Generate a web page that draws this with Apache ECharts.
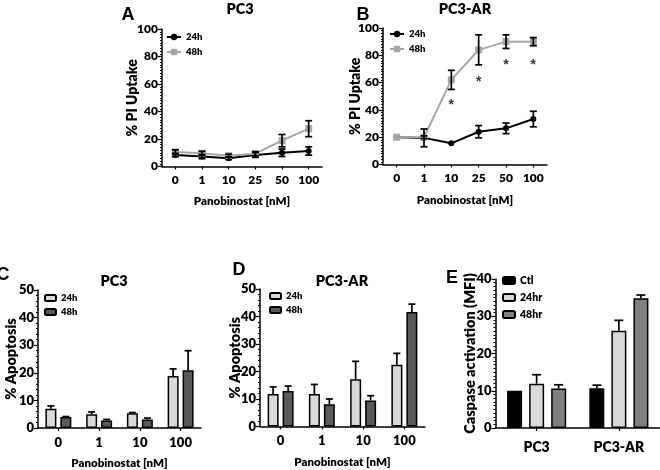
<!DOCTYPE html>
<html><head><meta charset="utf-8">
<script src="https://cdn.jsdelivr.net/npm/echarts@6/dist/echarts.min.js"></script>
<style>html,body{margin:0;padding:0;background:#fff}#c{width:660px;height:470px}</style>
</head><body><div id="c"></div>
<script>
// ---------- data ----------
const lineDoses = ['0', '1', '10', '25', '50', '100'];
const pc3_24h   = [8.4, 7.2, 6.0, 8.4, 10.0, 11.3];
const pc3_24hSD = [1.2, 1.5, 1.0, 1.8, 2.7, 3.0];
const pc3_48h   = [10.6, 9.6, 7.9, 9.3, 18.8, 27.5];
const pc3_48hSD = [1.5, 1.5, 1.0, 1.5, 4.5, 5.8];
const ar_24h    = [20, 19.5, 15.5, 24, 26.5, 33.3];
const ar_24hSD  = [0, 6.5, 0, 4.5, 3.9, 5.7];
const ar_48h    = [20, 20, 62, 84, 90, 90];
const ar_48hSD  = [0, 1, 7, 11, 5, 3];
const starDoses = ['10', '25', '50', '100'];
const starY     = [46, 62.5, 75, 75];

const barDoses    = ['0', '1', '10', '100'];
const apoPC3_24h   = [7.0, 5.0, 5.3, 18.8];
const apoPC3_24hSD = [1.0, 0.8, 0.3, 2.6];
const apoPC3_48h   = [4.0, 2.7, 3.1, 20.9];
const apoPC3_48hSD = [0.15, 0.4, 0.5, 7.1];
const apoAR_24h    = [11.8, 11.8, 17.2, 22.5];
const apoAR_24hSD  = [2.6, 3.5, 6.5, 4.1];
const apoAR_48h    = [12.9, 8.1, 9.5, 41.6];
const apoAR_48hSD  = [1.8, 1.9, 1.7, 2.9];

const cellLines  = ['PC3', 'PC3-AR'];
const caspCtl    = [10.0, 10.7];
const caspCtlSD  = [0, 0.8];
const casp24     = [11.9, 26.1];
const casp24SD   = [2.4, 2.8];
const casp48     = [10.6, 34.8];
const casp48SD   = [1.0, 0.9];

// ---------- style ----------
const FN = "Lato,'Liberation Sans',Arial,sans-serif";
const FW = "'Liberation Sans',Arial,sans-serif";
const WT = 800;
const BLACK = '#000';
const LIGHT = '#d9d9d9';
const DARK = '#5a5a5a';
const MID = '#808080';
const LINEGRAY = '#a6a6a6';

const grids = [
  {left: 162, top: 29, width: 160, height: 137.5},
  {left: 383, top: 28, width: 164, height: 136.5},
  {left: 38, top: 290, width: 163, height: 138},
  {left: 260, top: 289, width: 165, height: 137.5},
  {left: 495.5, top: 279, width: 164.5, height: 149}
];

function xAx(gi, data, name, gap, labelMargin, labelSize) {
  return {
    type: 'category', gridIndex: gi, data: data, boundaryGap: true,
    name: name, nameLocation: 'middle', nameGap: gap, nameMoveOverlap: false,
    nameTextStyle: {fontFamily: FN, fontWeight: WT, fontSize: 11.5, color: BLACK},
    axisLine: {show: true, lineStyle: {color: BLACK, width: 1.5}},
    axisTick: {show: true, alignWithLabel: true, interval: 0, length: 3, lineStyle: {color: BLACK, width: 1.2}},
    axisLabel: {interval: 0, fontFamily: FN, fontWeight: WT, fontSize: labelSize, color: BLACK, margin: labelMargin},
    splitLine: {show: false}
  };
}
function yAx(gi, max, interval, name, gap, nameSize, minorSplit, labelSize) {
  return {
    type: 'value', gridIndex: gi, min: 0, max: max, interval: interval,
    name: name, nameLocation: 'middle', nameGap: gap, nameMoveOverlap: false,
    nameTextStyle: {fontFamily: FN, fontWeight: WT, fontSize: nameSize, color: BLACK},
    axisLine: {show: true, lineStyle: {color: BLACK, width: 1.5}},
    axisTick: {show: true, length: 4, lineStyle: {color: BLACK, width: 1.2}},
    minorTick: {show: true, splitNumber: minorSplit, length: 2, lineStyle: {color: BLACK, width: 1}},
    axisLabel: {fontFamily: FN, fontWeight: WT, fontSize: labelSize, color: BLACK, margin: 4},
    splitLine: {show: false}, minorSplitLine: {show: false}
  };
}

function errData(vals, sds) { return vals.map((v, i) => [i, v, sds[i]]); }

function errSeries(gi, vals, sds, offset, capW, upOnly) {
  return {
    type: 'custom', xAxisIndex: gi, yAxisIndex: gi, z: 5,
    data: errData(vals, sds),
    renderItem: function (params, api) {
      const x = api.value(0), y = api.value(1), e = api.value(2);
      if (!e) return null;
      const p0 = api.coord([x, y]);
      const pt = api.coord([x, y + e]);
      const pb = upOnly ? p0 : api.coord([x, y - e]);
      const cx = p0[0] + offset;
      const st = {stroke: BLACK, lineWidth: 1.7};
      const ch = [
        {type: 'line', shape: {x1: cx, y1: pb[1], x2: cx, y2: pt[1]}, style: st},
        {type: 'line', shape: {x1: cx - capW / 2, y1: pt[1], x2: cx + capW / 2, y2: pt[1]}, style: st}
      ];
      if (!upOnly) ch.push({type: 'line', shape: {x1: cx - capW / 2, y1: pb[1], x2: cx + capW / 2, y2: pb[1]}, style: st});
      return {type: 'group', children: ch};
    }
  };
}

function lineSeries(gi, name, vals, color, symbol, size) {
  return {
    type: 'line', name: name, xAxisIndex: gi, yAxisIndex: gi, data: vals,
    symbol: symbol, symbolSize: size, showSymbol: true,
    lineStyle: {color: color, width: 2}, itemStyle: {color: color},
    z: name.indexOf('48') >= 0 ? 3 : 2, animation: false
  };
}

function barSeries(gi, name, vals, color, w, gap) {
  return {
    type: 'bar', name: name, xAxisIndex: gi, yAxisIndex: gi, data: vals,
    barWidth: w, barGap: gap,
    itemStyle: {color: color, borderColor: BLACK, borderWidth: 1.5}, animation: false
  };
}

const legendBase = {
  orient: 'vertical', padding: 0, selectedMode: false,
  formatter: n => n.split('|')[1],
  textStyle: {fontFamily: FN, fontWeight: WT, fontSize: 9.5, color: BLACK}
};

const txt = (t, x, y, size, font) => ({
  type: 'text', x: x, y: y,
  style: {text: t, font: WT + ' ' + size + 'px ' + font, fill: BLACK,
          align: 'center', verticalAlign: 'middle', textAlign: 'center', textVerticalAlign: 'middle'}
});

const option = {
  animation: false,
  backgroundColor: '#fff',
  textStyle: {fontFamily: FN, fontWeight: WT, color: BLACK},
  grid: grids,
  xAxis: [
    xAx(0, lineDoses, 'Panobinostat [nM]', 29, 8, 12),
    xAx(1, lineDoses, 'Panobinostat [nM]', 30, 8, 12),
    xAx(2, barDoses, 'Panobinostat [nM]', 29, 8, 13),
    xAx(3, barDoses, 'Panobinostat [nM]', 30, 8, 13),
    xAx(4, cellLines, '', 0, 12, 14)
  ],
  yAxis: [
    yAx(0, 100, 20, '% PI Uptake', 23, 14, 10, 12),
    yAx(1, 100, 20, '% PI Uptake', 21, 14, 10, 12),
    yAx(2, 50, 10, '% Apoptosis', 19, 14.5, 5, 13),
    yAx(3, 50, 10, '% Apoptosis', 17, 14.5, 5, 13),
    yAx(4, 40, 10, 'Caspase activation (MFI)', 18, 14.5, 10, 13)
  ],
  legend: [
    Object.assign({}, legendBase, {data: ['A|24h', 'A|48h'], left: 166, top: 32, itemWidth: 14, itemHeight: 8, itemGap: 5}),
    Object.assign({}, legendBase, {data: ['B|24h', 'B|48h'], left: 389, top: 29, itemWidth: 14, itemHeight: 8, itemGap: 5}),
    Object.assign({}, legendBase, {data: ['C|24h', 'C|48h'], left: 44, top: 293, itemWidth: 11, itemHeight: 6, itemGap: 4}),
    Object.assign({}, legendBase, {data: ['D|24h', 'D|48h'], left: 269, top: 291, itemWidth: 11, itemHeight: 6, itemGap: 4}),
    Object.assign({}, legendBase, {data: ['E|Ctl', 'E|24hr', 'E|48hr'], left: 502, top: 275, itemWidth: 12, itemHeight: 7, itemGap: 6,
      textStyle: {fontFamily: FN, fontWeight: WT, fontSize: 10.5, color: BLACK}})
  ],
  graphic: [
    txt('A', 128, 15, 18, FW), txt('PC3', 240, 9, 14.5, FN),
    txt('B', 363, 15, 18, FW), txt('PC3-AR', 465, 9, 14.5, FN),
    txt('C', 3, 275, 18, FW), txt('PC3', 114, 281, 14.5, FN),
    txt('D', 239, 270, 18, FW), txt('PC3-AR', 342, 281, 14.5, FN),
    txt('E', 452, 278, 18, FW)
  ],
  series: [
    // A
    lineSeries(0, 'A|24h', pc3_24h, BLACK, 'circle', 6),
    lineSeries(0, 'A|48h', pc3_48h, LINEGRAY, 'rect', 7),
    errSeries(0, pc3_24h, pc3_24hSD, 0, 7, false),
    errSeries(0, pc3_48h, pc3_48hSD, 0, 7, false),
    // B
    lineSeries(1, 'B|24h', ar_24h, BLACK, 'circle', 6),
    lineSeries(1, 'B|48h', ar_48h, LINEGRAY, 'rect', 7),
    errSeries(1, ar_24h, ar_24hSD, 0, 7, false),
    errSeries(1, ar_48h, ar_48hSD, 0, 7, false),
    {
      type: 'scatter', xAxisIndex: 1, yAxisIndex: 1, symbolSize: 2,
      itemStyle: {color: 'rgba(0,0,0,0)'},
      data: starDoses.map((d, i) => [d, starY[i]]),
      label: {show: true, position: 'inside', formatter: '*', offset: [0, 3],
              fontFamily: FW, fontWeight: 700, fontSize: 14, color: BLACK},
      z: 6, animation: false
    },
    // C
    barSeries(2, 'C|24h', apoPC3_24h, LIGHT, 11, '36%'),
    barSeries(2, 'C|48h', apoPC3_48h, DARK, 11, '36%'),
    errSeries(2, apoPC3_24h, apoPC3_24hSD, -7.5, 7, true),
    errSeries(2, apoPC3_48h, apoPC3_48hSD, 7.5, 7, true),
    // D
    barSeries(3, 'D|24h', apoAR_24h, LIGHT, 11, '36%'),
    barSeries(3, 'D|48h', apoAR_48h, DARK, 11, '36%'),
    errSeries(3, apoAR_24h, apoAR_24hSD, -7.5, 7, true),
    errSeries(3, apoAR_48h, apoAR_48hSD, 7.5, 7, true),
    // E
    barSeries(4, 'E|Ctl', caspCtl, BLACK, 15, '47%'),
    barSeries(4, 'E|24hr', casp24, LIGHT, 15, '47%'),
    barSeries(4, 'E|48hr', casp48, MID, 15, '47%'),
    errSeries(4, caspCtl, caspCtlSD, -22, 9, true),
    errSeries(4, casp24, casp24SD, 0, 9, true),
    errSeries(4, casp48, casp48SD, 22, 9, true)
  ]
};

const chart = echarts.init(document.getElementById('c'), null, {renderer: 'canvas'});
chart.setOption(option);
</script>
</body></html>
